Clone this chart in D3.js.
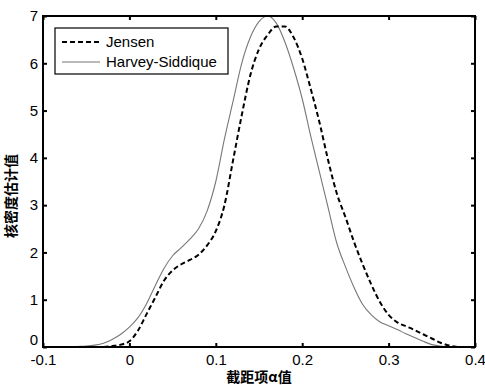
<!DOCTYPE html>
<html><head><meta charset="utf-8">
<script src="https://cdn.jsdelivr.net/npm/d3@7"></script>
<style>
html,body{margin:0;padding:0;background:#fff;}
svg{display:block;}
</style></head>
<body>
<script>
// Data
const xValues = [-0.07,-0.06,-0.05,-0.04,-0.03,-0.02,-0.01,0.00,0.01,0.02,0.03,0.04,0.05,0.06,0.07,0.08,0.09,0.10,0.11,0.12,0.13,0.14,0.15,0.16,0.17,0.18,0.19,0.20,0.21,0.22,0.23,0.24,0.25,0.26,0.27,0.28,0.29,0.30,0.31,0.32,0.33,0.34,0.35,0.36,0.37,0.38];
const harveySiddique = [0,0.01,0.02,0.04,0.08,0.16,0.27,0.42,0.62,0.92,1.3,1.66,1.93,2.1,2.28,2.5,2.88,3.5,4.4,5.2,6.0,6.55,6.88,7.0,6.85,6.45,5.9,5.25,4.45,3.7,2.95,2.2,1.7,1.26,0.9,0.68,0.53,0.45,0.37,0.28,0.2,0.12,0.05,0.02,0,0];
const jensen = [0,0,0,0,0,0.02,0.05,0.12,0.35,0.7,1.05,1.4,1.62,1.75,1.84,1.95,2.15,2.45,3.0,3.95,4.9,5.75,6.3,6.6,6.78,6.78,6.55,6.1,5.45,4.75,3.95,3.25,2.75,2.22,1.75,1.32,0.95,0.68,0.52,0.44,0.36,0.27,0.18,0.09,0.03,0];
const xTicks = [-0.1,0,0.1,0.2,0.3,0.4];
const xTickLabels = ["-0.1","0","0.1","0.2","0.3","0.4"];
const yTicks = [0,1,2,3,4,5,6,7];
const seriesNames = ["Jensen","Harvey-Siddique"];

const W=485,H=385;
const m={left:43,right:10,top:16,bottom:38};
const svg=d3.select("body").append("svg").attr("width",W).attr("height",H);
const x=d3.scaleLinear().domain([-0.1,0.4]).range([m.left,W-m.right]);
const y=d3.scaleLinear().domain([0,7]).range([H-m.bottom,m.top]);
const font="Liberation Sans, Arial, sans-serif";

// curves
svg.append("path").datum(harveySiddique).attr("fill","none").attr("stroke","#777").attr("stroke-width",1.1)
  .attr("d",d3.line().x((d,i)=>x(xValues[i])).y(d=>y(d)).curve(d3.curveMonotoneX).defined((d,i)=>xValues[i]<=0.37));
svg.append("path").datum(jensen).attr("fill","none").attr("stroke","#000").attr("stroke-width",2).attr("stroke-dasharray","5,3")
  .attr("d",d3.line().x((d,i)=>x(xValues[i])).y(d=>y(d)).curve(d3.curveMonotoneX).defined((d,i)=>xValues[i]>=-0.03));

// axes
const gx=svg.append("g").attr("transform",`translate(0,${H-m.bottom})`)
  .call(d3.axisBottom(x).tickValues(xTicks).tickSize(-4).tickPadding(7).tickFormat((d,i)=>xTickLabels[i]));
const gxt=svg.append("g").attr("transform",`translate(0,${m.top})`)
  .call(d3.axisTop(x).tickValues(xTicks).tickSize(-4).tickFormat(""));
const gy=svg.append("g").attr("transform",`translate(${m.left},0)`)
  .call(d3.axisLeft(y).tickValues(yTicks).tickSize(-4).tickPadding(5).tickFormat(d3.format("d")));
const gyr=svg.append("g").attr("transform",`translate(${W-m.right},0)`)
  .call(d3.axisRight(y).tickValues(yTicks).tickSize(-4).tickFormat(""));
[gx,gxt,gy,gyr].forEach(g=>{
  g.select(".domain").remove();
  g.selectAll(".tick line").attr("stroke","#000").attr("stroke-width",2);
  g.selectAll("text").attr("font-family",font).attr("font-size",15).attr("fill","#000");
});
gx.selectAll("text").attr("dy","0.71em");
gy.selectAll(".tick text").filter(d=>d===0).attr("dy","-0.15em");
svg.append("rect").attr("x",m.left).attr("y",m.top).attr("width",W-m.left-m.right).attr("height",H-m.top-m.bottom)
  .attr("fill","none").attr("stroke","#000").attr("stroke-width",2);

// labels
svg.append("text").attr("x",(m.left+W-m.right)/2).attr("y",H-3).attr("text-anchor","middle")
  .attr("font-family","Noto Sans CJK SC, sans-serif").attr("font-size",14).attr("font-weight","bold").text("截距项α值");
svg.append("text").attr("transform",`translate(16,196) rotate(-90)`).attr("text-anchor","middle")
  .attr("font-family","Noto Sans CJK SC, sans-serif").attr("font-size",14).attr("font-weight","bold").text("核密度估计值");

// legend
const lg=svg.append("g");
lg.append("rect").attr("x",55).attr("y",28).attr("width",173).attr("height",46).attr("fill","#fff").attr("stroke","#000").attr("stroke-width",1.2);
const styles=[{c:"#000",w:2,da:"5,3"},{c:"#777",w:1.1,da:null}];
seriesNames.forEach((n,i)=>{
  const yy=42+i*20;
  lg.append("line").attr("x1",62).attr("x2",100).attr("y1",yy).attr("y2",yy)
    .attr("stroke",styles[i].c).attr("stroke-width",styles[i].w).attr("stroke-dasharray",styles[i].da);
  lg.append("text").attr("x",106).attr("y",yy+5).attr("font-family",font).attr("font-size",15).text(n);
});
</script>
</body></html>
